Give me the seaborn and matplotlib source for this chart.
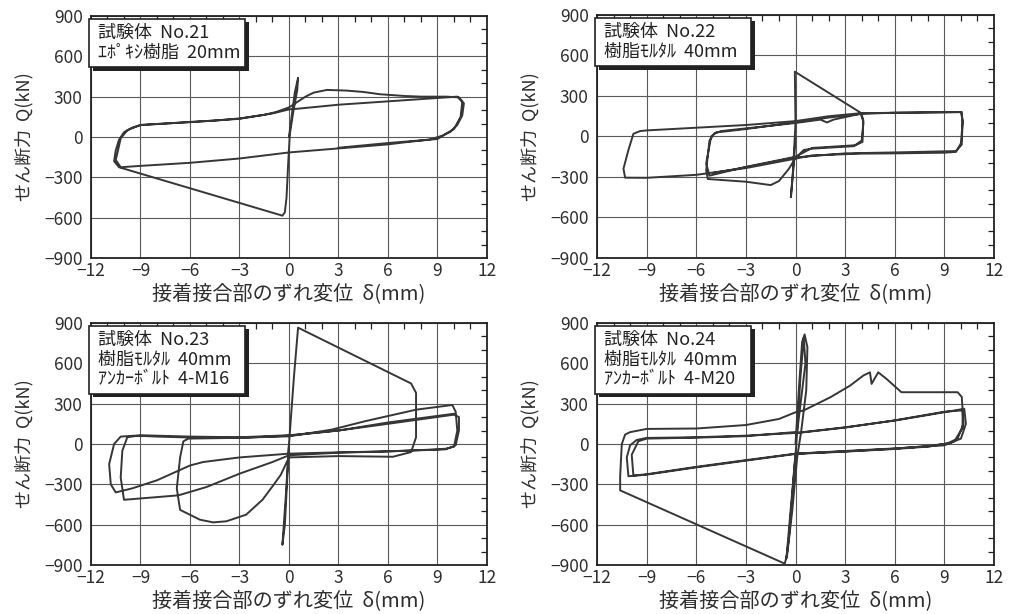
import numpy as np
import matplotlib
matplotlib.use("Agg")
import matplotlib.pyplot as plt
import seaborn as sns
from matplotlib.patches import Rectangle
from matplotlib.ticker import MultipleLocator

# hysteresis paths: (slip mm, shear kN)
no21 = [(0, 0), (0.35, 330), (0.55, 440), (0.5, 350), (0.25, 180), (0.05, 20),
        (-0.05, -200), (-0.15, -450), (-0.25, -560), (-0.4, -585),
        (-10.3, -225), (-10.6, -180), (-10.5, -100), (-10.3, -20), (-10.0, 35),
        (-9.5, 70), (-9.0, 88), (-7.5, 100), (-6.0, 112), (-4.5, 122), (-3.0, 138),
        (-1.5, 165), (-0.8, 185), (0.0, 220), (0.5, 260), (1.0, 300), (1.5, 330),
        (2.3, 350), (3.5, 345), (4.5, 335), (5.5, 318), (7.0, 305), (8.0, 300),
        (9.5, 300), (10.3, 295), (10.6, 250), (10.5, 160), (10.2, 90), (9.8, 40),
        (9.3, 10), (8.5, -20), (7.0, -40), (6.0, -55), (3.0, -85), (0.0, -115),
        (-3.0, -160), (-6.0, -192), (-9.0, -215), (-10.2, -225), (-10.5, -170),
        (-10.4, -120), (-10.2, -10), (-9.8, 50), (-9.2, 80), (-9.0, 90), (-6.0, 110),
        (-3.0, 135), (-1.0, 175), (0.0, 205), (0.5, 210), (3.0, 240), (6.0, 265),
        (9.0, 290), (10.2, 300), (10.5, 260), (10.4, 150), (10.0, 60), (9.4, 15),
        (9.0, -15), (6.0, -45), (3.0, -80)]

no22 = [(0, 0), (-0.1, -200), (-0.28, -450), (-0.15, -250), (0, 100), (-0.04, 480),
        (3.9, 179), (4.1, 120), (4.05, -40), (3.5, -72), (1, -90), (0.5, -100),
        (0, -160), (-0.4, -239), (-1.0, -330), (-1.5, -360), (-3, -335), (-5.3, -315),
        (-5.4, -250), (-5.2, -30), (-4.9, 22), (-4.5, 40), (-3, 60), (0, 100),
        (1.5, 125), (1.9, 104), (2.3, 125), (4, 170), (4.1, 100), (4.0, -30),
        (3.6, -65), (1, -85), (0, -150), (-3, -225), (-5.2, -290), (-5.4, -200),
        (-5.1, 0), (-4.8, 30), (-3, 55), (0, 105), (2, 140), (4, 168), (6, 176),
        (9, 180), (10.05, 182), (10.1, 100), (10.0, -50), (9.7, -114), (9, -120),
        (6, -125), (3.9, -127), (1, -140), (0, -164), (-3, -234), (-6, -284),
        (-9, -306), (-10.3, -305), (-10.4, -239), (-10.1, -100), (-9.8, 20),
        (-9.4, 40), (-9, 45), (-6, 65), (-3, 85), (0, 114), (2, 150), (3.9, 172),
        (6, 176), (10, 180), (10.1, 120), (10.05, -60), (9.7, -108), (6, -118),
        (3, -125), (0, -155), (-3, -228), (-5, -270)]

no23 = [(0, 0), (-0.2, -400), (-0.4, -750), (-0.25, -600), (0, 0), (0.3, 500),
        (0.55, 865), (7.4, 450), (7.7, 380), (7.7, 50), (7.4, -60), (6.3, -95),
        (3, -90), (0, -100), (-0.5, -230), (-1.0, -315), (-1.6, -414), (-2.6, -526),
        (-3.8, -575), (-4.6, -583), (-5.4, -563), (-6.6, -490), (-6.8, -330),
        (-6.6, -100), (-6.4, 20), (-6.1, 40), (-3.4, 45), (0, 57), (2.6, 107),
        (4.6, 169), (7.7, 255), (9.9, 290), (10.1, 240), (10.2, 100), (10, -20),
        (9.5, -35), (9, -40), (6, -55), (3, -62), (0, -72), (-3, -100),
        (-5.2, -134), (-6, -160), (-8, -270), (-9.5, -330), (-10.5, -360),
        (-10.8, -300), (-10.9, -150), (-10.6, 0), (-10.2, 55), (-9.3, 62),
        (-8, 55), (-6, 48), (-3, 45), (0, 62), (3, 100), (6, 150), (10, 218),
        (10.3, 200), (10.3, 100), (10.1, -10), (9.5, -40), (6, -55), (3, -65),
        (0, -84), (-1, -134), (-3, -221), (-5, -320), (-6.7, -382), (-8.5, -400),
        (-10, -415), (-10.2, -250), (-10.1, -50), (-9.8, 50), (-9, 65), (-6, 55),
        (-3, 50), (0, 65), (3, 100), (6, 160), (10, 225)]

no24 = [(0, 0), (0.2, 400), (0.4, 760), (0.55, 815), (0.72, 720), (0.65, 400),
        (0.35, 100), (0.1, -100), (-0.2, -500), (-0.5, -820), (-0.65, -890),
        (-10.6, -345), (-10.6, -240), (-10.5, 0), (-10.3, 70), (-10, 88),
        (-9, 112), (-6, 115), (-3, 141), (-1, 186), (0, 236), (0.5, 250),
        (2.1, 347), (3.3, 434), (4.1, 509), (4.5, 533), (4.6, 447), (5, 533),
        (5.5, 484), (6.4, 385), (9.8, 385), (10.05, 350), (10.1, 260),
        (10.15, 150), (9.8, 40), (9.2, 5), (8, -20), (6, -37), (3, -57), (0, -74),
        (-3, -124), (-6, -174), (-9, -228), (-10.1, -240), (-10.2, -100),
        (-10, -10), (-9.6, 30), (-9, 45), (-6, 50), (-3, 62), (0, 82), (3, 124),
        (6, 174), (9, 236), (10.2, 262), (10.3, 150), (10, 40), (9.3, 5),
        (8, -15), (6, -35), (3, -55), (0, -72), (-0.3, -500), (-0.55, -850),
        (-0.4, -700), (0.05, 0), (0.3, 500), (0.5, 790), (0.6, 600), (0.1, 90),
        (-3, 58), (-6, 47), (-9, 40), (-9.5, 20), (-9.9, -80), (-9.8, -235),
        (-9, -225), (-6, -170), (-3, -120), (0, -72), (3, -52), (6, -33),
        (9, -10), (9.6, 20), (10.1, 120), (10.1, 250), (9, 240), (6, 176),
        (3, 122), (0, 80)]

labels = [["試験体  No.21", "ｴﾎﾟｷｼ樹脂  20mm"],
          ["試験体  No.22", "樹脂ﾓﾙﾀﾙ  40mm"],
          ["試験体  No.23", "樹脂ﾓﾙﾀﾙ  40mm", "ｱﾝｶｰﾎﾞﾙﾄ  4-M16"],
          ["試験体  No.24", "樹脂ﾓﾙﾀﾙ  40mm", "ｱﾝｶｰﾎﾞﾙﾄ  4-M20"]]

x_ticks = list(range(-12, 13, 3))
q_ticks = list(range(-900, 901, 300))
xlabel = "接着接合部のずれ変位  δ(mm)"
ylabel = "せん断力  Q(kN)"

sns.set_theme(style="white")
plt.rcParams["font.family"] = ["Noto Sans CJK JP", "DejaVu Sans"]

ink = "#2e2e2e"
fig = plt.figure(figsize=(10.11, 6.14), dpi=100)
positions = [[0.090, 0.5798, 0.3917, 0.3942],
             [0.5905, 0.5798, 0.3927, 0.3958],
             [0.090, 0.0798, 0.3917, 0.3942],
             [0.5905, 0.0798, 0.3927, 0.3942]]

for pos, data, lines in zip(positions, [no21, no22, no23, no24], labels):
    ax = fig.add_axes(pos)
    arr = np.array(data, dtype=float)
    sns.lineplot(x=arr[:, 0], y=arr[:, 1], sort=False, estimator=None,
                 color="#363636", lw=1.4, ax=ax, zorder=3)
    ax.set_xlim(-12, 12)
    ax.set_ylim(-900, 900)
    ax.set_xticks(x_ticks)
    ax.set_yticks(q_ticks)
    ax.xaxis.set_minor_locator(MultipleLocator(1))
    ax.yaxis.set_minor_locator(MultipleLocator(100))
    ax.tick_params(which="both", direction="in", top=True, right=True,
                   colors="#222222", labelcolor=ink)
    ax.tick_params(which="major", length=0, labelsize=12.5)
    ax.tick_params(which="minor", length=4, width=0.9)
    ax.tick_params(axis="x", pad=3)
    ax.tick_params(axis="y", pad=6)
    ax.grid(True, which="major", color="#5a5a5a", lw=0.8)
    for s in ax.spines.values():
        s.set_color("#222222")
        s.set_linewidth(1.3)
    ax.set_xlabel(xlabel, fontsize=14.5, color=ink, labelpad=3)
    ax.set_ylabel(ylabel, fontsize=13, color=ink, labelpad=8)

    # label box with drop shadow
    n = len(lines)
    box_bottom = 0.789 if n == 2 else 0.707
    w, h = 0.394, 0.988 - box_bottom
    dx, dy = 3.5 / 396, 3.5 / 242
    ax.add_patch(Rectangle((-0.005 + dx, box_bottom - dy), w, h, transform=ax.transAxes,
                           facecolor="#222222", edgecolor="none", zorder=5, clip_on=False))
    ax.add_patch(Rectangle((-0.005, box_bottom), w, h, transform=ax.transAxes,
                           facecolor="white", edgecolor="#222222", lw=1.2, zorder=6,
                           clip_on=False))
    for i, t in enumerate(lines):
        ax.text(0.018, 0.93 - i * 0.081, t, transform=ax.transAxes, fontsize=13,
                color="#222222", va="center", ha="left", zorder=7)

fig.savefig("out.png", dpi=100, facecolor="white")
